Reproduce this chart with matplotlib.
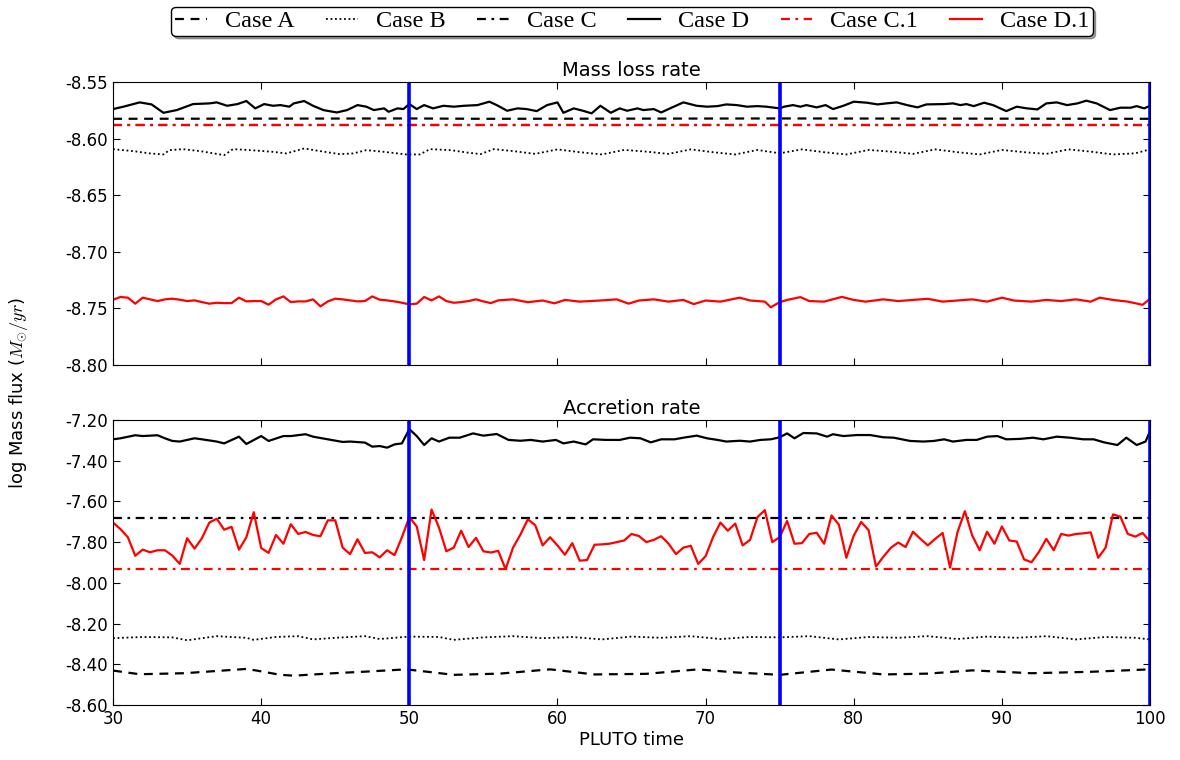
import numpy as np
import matplotlib.pyplot as plt

plt.rcParams['font.family'] = ['DejaVu Sans']
plt.rcParams['axes.unicode_minus'] = False
plt.rcParams['mathtext.fontset'] = 'cm'

# --- data ---
# Case D.1, accretion rate, sampled every 0.5 time units (30 .. 100)
t_grid = np.arange(30, 100.01, 0.5)
acc_d1 = [
    -7.704, -7.736, -7.776, -7.867, -7.837, -7.850, -7.840, -7.840, -7.866, -7.907,
    -7.781, -7.832, -7.781, -7.704, -7.685, -7.739, -7.725, -7.837, -7.776, -7.653,
    -7.829, -7.853, -7.765, -7.808, -7.712, -7.760, -7.750, -7.765, -7.771, -7.693,
    -7.693, -7.827, -7.859, -7.786, -7.853, -7.850, -7.875, -7.840, -7.864, -7.776,
    -7.677, -7.723, -7.888, -7.640, -7.728, -7.845, -7.827, -7.744, -7.824, -7.779,
    -7.845, -7.851, -7.843, -7.933, -7.827, -7.763, -7.688, -7.717, -7.816, -7.776,
    -7.816, -7.862, -7.805, -7.891, -7.888, -7.813, -7.811, -7.808, -7.800, -7.792,
    -7.760, -7.770, -7.800, -7.789, -7.771, -7.808, -7.859, -7.827, -7.818, -7.907,
    -7.869, -7.776, -7.704, -7.744, -7.709, -7.816, -7.789, -7.677, -7.643, -7.800,
    -7.776, -7.696, -7.808, -7.805, -7.760, -7.754, -7.808, -7.669, -7.715, -7.877,
    -7.768, -7.701, -7.741, -7.920, -7.872, -7.828, -7.802, -7.824, -7.749, -7.784,
    -7.816, -7.784, -7.755, -7.925, -7.752, -7.648, -7.768, -7.840, -7.749, -7.808,
    -7.723, -7.792, -7.797, -7.885, -7.899, -7.848, -7.784, -7.840, -7.760, -7.768,
    -7.760, -7.757, -7.752, -7.877, -7.827, -7.664, -7.675, -7.760, -7.773, -7.755,
    -7.797,
]

# Case D, accretion rate (vertices)
acc_d_t = [30, 30.5, 31.5, 32, 33, 33.5, 34, 34.5, 35.5, 36, 37, 37.5, 38.5, 39, 40, 40.5,
           41.5, 42, 43, 43.5, 44.5, 45.5, 46, 47, 47.5, 48, 48.5, 49, 49.5, 50, 50.5, 51,
           51.5, 52, 52.7, 53.4, 54.3, 55, 55.9, 56.7, 57.5, 58.2, 59, 59.9, 60.4, 61.1,
           61.9, 62.4, 63.3, 64.2, 64.9, 65.6, 66.3, 67, 67.9, 68.5, 69.4, 70.1, 70.8,
           71.4, 72.3, 73, 73.7, 74.4, 75, 75.5, 76, 76.6, 77.5, 78.2, 78.6, 79.3, 80.2,
           81.1, 82, 82.7, 83.8, 84.7, 85.4, 86.1, 86.7, 87.6, 88.3, 89, 89.7, 90.3, 91.2,
           92.1, 92.8, 93.7, 94.6, 95.5, 96.2, 96.9, 97.8, 98.4, 99.1, 99.7, 100]
acc_d = [-7.295, -7.290, -7.275, -7.279, -7.275, -7.290, -7.303, -7.306, -7.290, -7.295,
         -7.306, -7.315, -7.282, -7.318, -7.279, -7.303, -7.279, -7.279, -7.270, -7.282,
         -7.295, -7.308, -7.306, -7.311, -7.331, -7.328, -7.336, -7.320, -7.315, -7.245,
         -7.279, -7.323, -7.290, -7.306, -7.287, -7.287, -7.266, -7.277, -7.269, -7.298,
         -7.302, -7.298, -7.306, -7.298, -7.315, -7.306, -7.320, -7.295, -7.298, -7.298,
         -7.287, -7.290, -7.310, -7.295, -7.295, -7.287, -7.277, -7.290, -7.298, -7.306,
         -7.302, -7.306, -7.298, -7.295, -7.285, -7.266, -7.290, -7.264, -7.266, -7.282,
         -7.270, -7.279, -7.274, -7.274, -7.285, -7.287, -7.303, -7.306, -7.303, -7.295,
         -7.306, -7.298, -7.298, -7.282, -7.279, -7.295, -7.293, -7.287, -7.295, -7.282,
         -7.287, -7.295, -7.295, -7.310, -7.323, -7.287, -7.323, -7.306, -7.255]

# Case A, accretion rate (vertices)
acc_a_t = [30, 31.8, 34.8, 37, 39, 39.7, 41.3, 42.2, 44.9, 47.1, 49.8, 51.6, 53, 56.1, 59.5,
           62.5, 66, 69.5, 72, 75, 78.5, 82, 85, 88, 92, 96, 100]
acc_a = [-8.431, -8.449, -8.444, -8.433, -8.423, -8.431, -8.452, -8.456, -8.444, -8.436,
         -8.425, -8.440, -8.452, -8.446, -8.425, -8.450, -8.447, -8.425, -8.440, -8.452,
         -8.426, -8.450, -8.446, -8.430, -8.444, -8.437, -8.425]

# Case B, accretion rate (vertices)
acc_b_t = [30, 32, 34, 35, 37, 39, 39.5, 41, 42.5, 43.5, 45, 47, 48, 50, 52, 53, 55, 57, 59,
           61, 63, 65, 67, 69, 71, 73, 75, 77, 79, 81, 83, 85, 87, 89, 91, 93, 95, 97, 99, 100]
acc_b = [-8.272, -8.266, -8.268, -8.282, -8.262, -8.270, -8.280, -8.266, -8.262, -8.278,
         -8.270, -8.262, -8.276, -8.264, -8.266, -8.280, -8.268, -8.262, -8.272, -8.266,
         -8.278, -8.264, -8.270, -8.262, -8.276, -8.266, -8.268, -8.262, -8.278, -8.266,
         -8.270, -8.262, -8.276, -8.264, -8.270, -8.262, -8.278, -8.266, -8.270, -8.278]

acc_c = -7.681
acc_c1 = -7.932

# Case D, mass loss rate (vertices)
ml_d_t = [30, 30.7, 31.8, 32.6, 33.4, 34.3, 35.4, 36.5, 37.0, 37.7, 38.4, 39.0, 39.6, 40.2,
          40.8, 41.3, 41.9, 42.2, 42.9, 43.5, 44.2, 45.1, 45.8, 46.5, 47.1, 47.6, 48.3, 48.6,
          49.2, 49.6, 50.0, 50.5, 51.0, 51.6, 52.3, 53.0, 53.7, 54.6, 55.4, 55.9, 56.6, 57.3,
          57.9, 58.6, 59.3, 60.0, 60.4, 61.1, 61.8, 62.3, 62.9, 63.6, 64.2, 64.7, 65.4, 65.8,
          66.5, 67.0, 67.6, 68.5, 69.4, 70.1, 70.8, 71.4, 72.1, 72.8, 73.5, 74.1, 75.0, 75.3,
          75.9, 76.4, 76.8, 77.5, 78.1, 78.6, 79.3, 80.0, 80.9, 81.6, 82.2, 82.9, 83.6, 84.3,
          84.9, 86.1, 86.7, 87.2, 87.6, 88.1, 88.8, 89.4, 90.3, 91.0, 91.7, 92.4, 93.0, 93.7,
          94.4, 95.1, 95.7, 96.4, 97.3, 98.0, 98.7, 99.1, 99.6, 100]
ml_d = [-8.5739, -8.5718, -8.5680, -8.5698, -8.5772, -8.5748, -8.5695, -8.5689, -8.5680,
        -8.5710, -8.5695, -8.5668, -8.5733, -8.5695, -8.5710, -8.5704, -8.5718, -8.5689,
        -8.5668, -8.5710, -8.5748, -8.5769, -8.5748, -8.5704, -8.5718, -8.5748, -8.5733,
        -8.5763, -8.5733, -8.5739, -8.5695, -8.5739, -8.5704, -8.5733, -8.5710, -8.5718,
        -8.5710, -8.5704, -8.5674, -8.5704, -8.5754, -8.5733, -8.5739, -8.5757, -8.5704,
        -8.5680, -8.5772, -8.5733, -8.5757, -8.5777, -8.5710, -8.5772, -8.5733, -8.5754,
        -8.5733, -8.5748, -8.5739, -8.5769, -8.5733, -8.5680, -8.5710, -8.5718, -8.5713,
        -8.5698, -8.5704, -8.5718, -8.5713, -8.5718, -8.5733, -8.5718, -8.5704, -8.5718,
        -8.5704, -8.5724, -8.5704, -8.5739, -8.5710, -8.5674, -8.5683, -8.5698, -8.5689,
        -8.5680, -8.5704, -8.5724, -8.5698, -8.5695, -8.5689, -8.5704, -8.5695, -8.5713,
        -8.5683, -8.5704, -8.5757, -8.5718, -8.5733, -8.5742, -8.5689, -8.5680, -8.5704,
        -8.5689, -8.5665, -8.5689, -8.5748, -8.5727, -8.5727, -8.5713, -8.5733, -8.5710]

# Case D.1, mass loss rate (vertices)
ml_d1_t = [30, 30.5, 31, 31.5, 32, 32.5, 33, 33.5, 34, 34.5, 35, 35.5, 36, 36.5, 37, 37.5,
           38, 38.5, 39, 39.5, 40, 40.5, 41, 41.5, 42, 42.5, 43, 43.5, 44, 44.5, 45, 45.5,
           46, 46.5, 47, 47.5, 48, 48.5, 49, 49.5, 50, 50.5, 51, 51.5, 52, 52.5, 53, 53.5,
           54, 54.5, 55, 55.5, 56, 57, 58, 59, 59.8, 60.5, 61.5, 62.9, 64, 64.8, 65.5, 66.5,
           67.5, 68.5, 69.2, 70, 71, 72.3, 73, 74, 74.4, 75, 75.5, 76.4, 77, 78, 79.2, 80,
           80.8, 82, 83, 84, 85, 86, 87, 88, 89, 90, 90.8, 92, 93, 94, 95, 96, 96.6, 97.5,
           98.5, 99.5, 100]
ml_d1 = [-8.7423, -8.7399, -8.7405, -8.7458, -8.7405, -8.7420, -8.7435, -8.7420, -8.7414,
         -8.7423, -8.7435, -8.7429, -8.7444, -8.7458, -8.7450, -8.7453, -8.7453, -8.7405,
         -8.7438, -8.7435, -8.7435, -8.7467, -8.7420, -8.7394, -8.7444, -8.7438, -8.7438,
         -8.7420, -8.7482, -8.7438, -8.7414, -8.7420, -8.7429, -8.7438, -8.7435, -8.7394,
         -8.7423, -8.7429, -8.7438, -8.7450, -8.7464, -8.7458, -8.7399, -8.7429, -8.7394,
         -8.7435, -8.7450, -8.7444, -8.7435, -8.7420, -8.7438, -8.7453, -8.7429, -8.7420,
         -8.7445, -8.7430, -8.7455, -8.7425, -8.7440, -8.7430, -8.7420, -8.7458, -8.7430,
         -8.7420, -8.7440, -8.7425, -8.7462, -8.7430, -8.7440, -8.7405, -8.7430, -8.7440,
         -8.7490, -8.7445, -8.7425, -8.7400, -8.7435, -8.7440, -8.7398, -8.7425, -8.7440,
         -8.7420, -8.7435, -8.7425, -8.7415, -8.7440, -8.7430, -8.7420, -8.7440, -8.7405,
         -8.7430, -8.7440, -8.7425, -8.7435, -8.7420, -8.7440, -8.7405, -8.7425, -8.7440,
         -8.7468, -8.7415]

# Case B, mass loss rate (vertices)
ml_b_t = [30, 31.4, 32.5, 33.4, 33.8, 34.7, 35.9, 37.5, 38.1, 39.3, 40.8, 41.7, 42.9, 44,
          45.3, 46.2, 47.1, 48.3, 49.8, 50.7, 51.4, 52.8, 53.9, 54.8, 55.7, 57, 58.5, 60,
          61.5, 63, 64.5, 66, 67.5, 69, 70.5, 72, 73.5, 75, 76.5, 78, 79.5, 81, 82.5, 84,
          85.5, 87, 88.5, 90, 91.5, 93, 94.5, 96, 97.5, 99, 100]
ml_b = [-8.6093, -8.6111, -8.6131, -8.6140, -8.6102, -8.6093, -8.6111, -8.6146, -8.6093,
        -8.6102, -8.6117, -8.6131, -8.6087, -8.6111, -8.6137, -8.6131, -8.6102, -8.6117,
        -8.6140, -8.6140, -8.6093, -8.6102, -8.6123, -8.6137, -8.6093, -8.6110, -8.6135,
        -8.6095, -8.6120, -8.6140, -8.6100, -8.6115, -8.6135, -8.6095, -8.6120, -8.6140,
        -8.6100, -8.6130, -8.6095, -8.6120, -8.6140, -8.6100, -8.6115, -8.6135, -8.6095,
        -8.6120, -8.6140, -8.6100, -8.6120, -8.6135, -8.6095, -8.6115, -8.6140, -8.6130,
        -8.6095]

ml_a_t = [30, 50, 55, 75, 100]
ml_a = [-8.5825, -8.5822, -8.5825, -8.5822, -8.5825]
ml_c = -8.588
ml_c1 = -8.588

snap_times = [50, 75, 100]
labels = ['Case A', 'Case B', 'Case C', 'Case D', 'Case C.1', 'Case D.1']

fig = plt.figure(figsize=(11.8, 7.6), dpi=100)
ax1 = fig.add_axes([0.0958, 0.5197, 0.8788, 0.3724])
ax2 = fig.add_axes([0.0958, 0.0724, 0.8788, 0.3750], sharex=ax1)


def draw_panel(ax, a_t, a, b_t, b, c, d_t, d, c1, d1_t, d1):
    h = []
    h += ax.plot(a_t, a, color='black', ls=(0, (4, 3)), lw=1.6)
    h += ax.plot(b_t, b, color='black', ls=(0, (1, 1.5)), lw=1.3)
    h += ax.plot([30, 100], [c, c], color='black', ls=(0, (4, 2.5, 1.2, 2.5)), lw=1.6)
    h += ax.plot(d_t, d, color='black', ls='-', lw=1.6)
    h += ax.plot([30, 100], [c1, c1], color='red', ls=(0, (4, 2.5, 1.2, 2.5)), lw=1.6)
    h += ax.plot(d1_t, d1, color='red', ls='-', lw=1.6)
    for ts in snap_times:
        ax.axvline(ts, color='#0000ff', lw=2.6)
    ax.tick_params(direction='in', top=True, right=True, labelsize=12, length=5)
    return h


handles = draw_panel(ax1, ml_a_t, ml_a, ml_b_t, ml_b, ml_c, ml_d_t, ml_d, ml_c1, ml_d1_t, ml_d1)
draw_panel(ax2, acc_a_t, acc_a, acc_b_t, acc_b, acc_c, acc_d_t, acc_d, acc_c1, t_grid, acc_d1)

ax1.set_xlim(30, 100)
ax1.set_ylim(-8.80, -8.55)
ax1.set_yticks(np.arange(-8.80, -8.549, 0.05))
ax1.yaxis.set_major_formatter(plt.FormatStrFormatter('%.2f'))
ax1.tick_params(labelbottom=False)
ax1.set_title('Mass loss rate', fontsize=14, pad=4)

ax2.set_ylim(-8.60, -7.20)
ax2.set_yticks(np.arange(-8.60, -7.19, 0.2))
ax2.yaxis.set_major_formatter(plt.FormatStrFormatter('%.2f'))
ax2.set_xticks([30, 40, 50, 60, 70, 80, 90, 100])
ax2.set_title('Accretion rate', fontsize=14, pad=4)
ax2.set_xlabel('PLUTO time', fontsize=13, labelpad=2)

fig.text(0.016, 0.483, r'log Mass flux ($M_{\odot}/yr$)', rotation=90,
         ha='center', va='center', fontsize=13)

fig.legend(handles, labels, loc='center', bbox_to_anchor=(0.5356, 0.972), ncol=6,
           prop={'family': 'Liberation Serif', 'size': 17.5}, shadow=True, fancybox=True,
           handlelength=1.3, handletextpad=0.75, columnspacing=1.3, borderpad=0.15,
           framealpha=1, edgecolor='black')

fig.savefig('out.png', dpi=100)
